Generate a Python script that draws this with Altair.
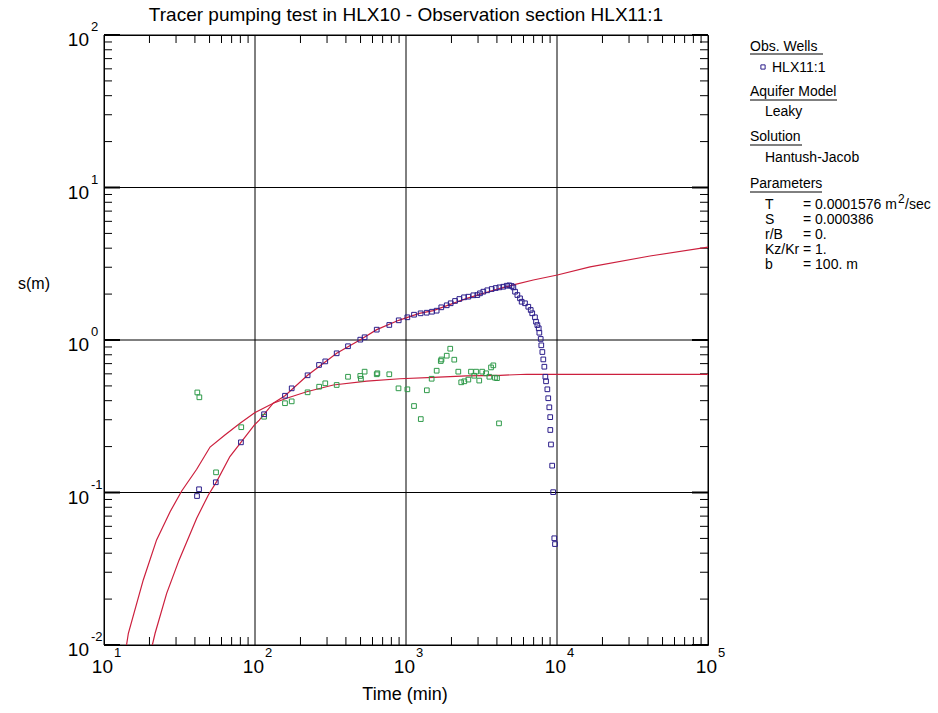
import altair as alt
import pandas as pd

# ---------------- data ----------------
# Observation section HLX11:1 (blue squares): time (min), drawdown s (m)
obs_t = [41.3, 42.6, 55.0, 80.7, 114.8, 158, 175, 223, 265.5, 292, 347.5, 413, 498, 532,
         640, 775, 895, 1021, 1130, 1250, 1371, 1486, 1596, 1713, 1861, 1977, 2113, 2256,
         2423, 2587, 2793, 2967, 3090, 3251, 3454, 3696, 3929, 4150, 4409, 4645, 4833,
         5012, 5140, 5275, 5463, 5689, 5835, 6138, 6456, 6697, 6856, 7146, 7262, 7413,
         7568, 7640, 7800, 7870, 7998, 8116, 8245, 8372, 8460, 8630, 8750, 8894, 9017,
         9030, 9125, 9291, 9435, 9597, 9700]
obs_s = [0.0948, 0.105, 0.1167, 0.2133, 0.326, 0.431, 0.482, 0.587, 0.686, 0.724, 0.818,
         0.910, 1.005, 1.042, 1.169, 1.255, 1.346, 1.409, 1.465, 1.496, 1.51, 1.533, 1.557,
         1.638, 1.689, 1.741, 1.803, 1.857, 1.905, 1.923, 1.964, 1.97, 2.023, 2.074, 2.118,
         2.159, 2.192, 2.214, 2.235, 2.27, 2.282, 2.259, 2.214, 2.074, 1.972, 1.876, 1.782,
         1.741, 1.652, 1.574, 1.497, 1.409, 1.318, 1.253, 1.193, 1.116, 1.016, 0.923, 0.834,
         0.746, 0.668, 0.574, 0.536, 0.475, 0.415, 0.362, 0.312, 0.257, 0.2065, 0.150,
         0.1005, 0.0501, 0.0459]

# second (green) point series
grn_t = [41.5, 42.8, 55.2, 81.1, 114.8, 158, 175, 223, 266, 292, 347.5, 413, 498, 503, 532,
         640, 646, 775, 892, 1021, 1130, 1253, 1374, 1479, 1596, 1718, 1700, 1861, 1963,
         2088, 2220, 2321, 2433, 2587, 2694, 2829, 2911, 3055, 3197, 3390, 3565, 3657,
         3787, 3882, 4006, 4130]
grn_s = [0.453, 0.421, 0.1356, 0.268, 0.314, 0.385, 0.396, 0.454, 0.494, 0.52, 0.507, 0.574,
         0.581, 0.557, 0.62, 0.596, 0.605, 0.596, 0.482, 0.475, 0.369, 0.303, 0.468, 0.557,
         0.629, 0.745, 0.728, 0.789, 0.877, 0.743, 0.62, 0.528, 0.536, 0.55, 0.62, 0.583,
         0.62, 0.542, 0.62, 0.605, 0.574, 0.661, 0.682, 0.566, 0.562, 0.284]

# fitted Hantush-Jacob curve through the blue points
fitA_t = [20.9, 21.8, 26.0, 31.4, 41.1, 49.1, 55.7, 68.2, 80.7, 98.9, 106.7, 132, 158, 223,
          347.5, 498, 640, 895, 1225, 1517, 2523, 4198, 5140, 6966, 10050, 16560, 41300,
          100000]
fitA_s = [0.0100, 0.01194, 0.0218, 0.0360, 0.0678, 0.0964, 0.1178, 0.172, 0.213, 0.277,
          0.2985, 0.385, 0.431, 0.587, 0.818, 1.005, 1.169, 1.346, 1.496, 1.557, 1.876,
          2.183, 2.297, 2.473, 2.667, 3.02, 3.556, 4.07]

# fitted curve through the green points
fitB_t = [14.1, 14.5, 18.2, 22.3, 27.4, 32.7, 41.1, 50.4, 63.2, 79.6, 99.5, 132, 162, 220,
          330, 550, 912, 1517, 2523, 4198, 6295, 10000, 100000]
fitB_s = [0.0100, 0.01194, 0.0267, 0.0489, 0.0748, 0.1023, 0.142, 0.1986, 0.238, 0.2845,
          0.3334, 0.385, 0.415, 0.458, 0.507, 0.538, 0.557, 0.569, 0.581, 0.587, 0.596,
          0.596, 0.596]

x_decades = [10, 100, 1000, 10000, 100000]
x_exps = ["1", "2", "3", "4", "5"]
y_decades = [0.01, 0.1, 1, 10, 100]
y_exps = ["-2", "-1", "0", "1", "2"]
minor_mult = [2, 3, 4, 5, 6, 7, 8, 9]

title_text = "Tracer pumping test in HLX10 - Observation section HLX11:1"
x_title = "Time (min)"
y_title = "s(m)"

leg_labels = ["Obs. Wells", "HLX11:1", "Aquifer Model", "Leaky", "Solution",
              "Hantush-Jacob", "Parameters", "T", "S", "r/B", "Kz/Kr", "b"]
param_values = ["= 0.0001576 m", "= 0.000386", "= 0.", "= 1.", "= 100. m"]

# ---------------- layout ----------------
W, H = 604, 610
FONT = "Liberation Sans"
BLUE = "#2b1d8a"
GREEN = "#2f9a4a"
RED = "#cc1f3d"

xs = alt.Scale(type="log", domain=[10, 100000], nice=False)
ys = alt.Scale(type="log", domain=[0.01, 100], nice=False)

obs_df = pd.DataFrame({"t": obs_t, "s": obs_s})
grn_df = pd.DataFrame({"t": grn_t, "s": grn_s})
fit_df = pd.concat([
    pd.DataFrame({"t": fitA_t, "s": fitA_s, "curve": "A"}),
    pd.DataFrame({"t": fitB_t, "s": fitB_s, "curve": "B"}),
])

xminor = [m * d for d in x_decades[:-1] for m in minor_mult]
yminor = [m * d for d in y_decades[:-1] for m in minor_mult]
xdec_df = pd.DataFrame({"t": x_decades, "e": x_exps, "base": ["10"] * 5})
ydec_df = pd.DataFrame({"s": y_decades, "e": y_exps, "base": ["10"] * 5})
xmin_df = pd.DataFrame({"t": xminor})
ymin_df = pd.DataFrame({"s": yminor})


def X():
    return alt.X("t:Q", scale=xs, axis=None)


def Y():
    return alt.Y("s:Q", scale=ys, axis=None)


# grid lines
vgrid = alt.Chart(xdec_df).mark_rule(color="black", strokeWidth=1).encode(
    x=X(), y=alt.value(0), y2=alt.value(H))
hgrid = alt.Chart(ydec_df).mark_rule(color="black", strokeWidth=1).encode(
    y=Y(), x=alt.value(0), x2=alt.value(W))

# minor ticks (inward, all four sides)
tb = alt.Chart(xmin_df).mark_rule(color="black", strokeWidth=1).encode(
    x=X(), y=alt.value(H), y2=alt.value(H - 8))
tt = alt.Chart(xmin_df).mark_rule(color="black", strokeWidth=1).encode(
    x=X(), y=alt.value(0), y2=alt.value(8))
tl = alt.Chart(ymin_df).mark_rule(color="black", strokeWidth=1).encode(
    y=Y(), x=alt.value(0), x2=alt.value(8))
tr = alt.Chart(ymin_df).mark_rule(color="black", strokeWidth=1).encode(
    y=Y(), x=alt.value(W), x2=alt.value(W - 8))
dl = alt.Chart(ydec_df).mark_rule(color="black", strokeWidth=2).encode(
    y=Y(), x=alt.value(0), x2=alt.value(16))
dr = alt.Chart(ydec_df).mark_rule(color="black", strokeWidth=2).encode(
    y=Y(), x=alt.value(W), x2=alt.value(W - 16))

# tick labels
xl_base = alt.Chart(xdec_df).mark_text(font=FONT, fontSize=19, align="right",
                                        baseline="alphabetic", dx=9).encode(
    x=X(), y=alt.value(H + 28), text="base:N")
xl_exp = alt.Chart(xdec_df).mark_text(font=FONT, fontSize=13, align="left",
                                       baseline="alphabetic", dx=10).encode(
    x=X(), y=alt.value(H + 12), text="e:N")
yl_base = alt.Chart(ydec_df).mark_text(font=FONT, fontSize=19, align="right",
                                        baseline="alphabetic", dy=11).encode(
    y=Y(), x=alt.value(-15), text="base:N")
yl_exp = alt.Chart(ydec_df).mark_text(font=FONT, fontSize=13, align="left",
                                       baseline="alphabetic", dy=-4).encode(
    y=Y(), x=alt.value(-13), text="e:N")

# data
curves = alt.Chart(fit_df).mark_line(color=RED, strokeWidth=1.2, clip=True).encode(
    x=X(), y=Y(), detail="curve:N")
pts_g = alt.Chart(grn_df).mark_point(shape="square", filled=False, size=22,
                                     strokeWidth=1, color=GREEN, opacity=1).encode(x=X(), y=Y())
pts_b = alt.Chart(obs_df).mark_point(shape="square", filled=False, size=22,
                                     strokeWidth=1, color=BLUE, opacity=1).encode(x=X(), y=Y())

# titles
title_main = alt.Chart(pd.DataFrame({"txt": [title_text]})).mark_text(
    font=FONT, fontSize=19, align="center", baseline="alphabetic").encode(
    x=alt.value(302), y=alt.value(-14), text="txt:N")
title_x = alt.Chart(pd.DataFrame({"txt": [x_title]})).mark_text(
    font=FONT, fontSize=18, align="center", baseline="alphabetic").encode(
    x=alt.value(301), y=alt.value(665), text="txt:N")
title_y = alt.Chart(pd.DataFrame({"txt": [y_title]})).mark_text(
    font=FONT, fontSize=16, align="left", baseline="alphabetic").encode(
    x=alt.value(-86), y=alt.value(254), text="txt:N")

# legend / info panel
leg_df = pd.DataFrame({
    "txt": leg_labels + param_values + ["/sec"],
    "px": [646, 668, 646, 661, 646, 661, 646, 661, 661, 661, 661, 661,
           699, 699, 699, 699, 699, 801],
    "py": [15.7, 36.7, 60.7, 81, 106, 127.3, 153.3, 173.5, 188.5, 203.5, 218.5, 234,
           173.5, 188.5, 203.5, 218.5, 234, 173.5],
})
legend_txt = alt.Chart(leg_df).mark_text(font=FONT, fontSize=14, align="left",
                                         baseline="alphabetic").encode(
    x=alt.X("px:Q", scale=None, axis=None),
    y=alt.Y("py:Q", scale=None, axis=None),
    text="txt:N")
sup = alt.Chart(pd.DataFrame({"txt": ["2"]})).mark_text(
    font=FONT, fontSize=12, align="left", baseline="alphabetic").encode(
    x=alt.value(794), y=alt.value(168), text="txt:N")
ul_df = pd.DataFrame({"x1": [646, 646, 646, 646], "x2": [719, 733, 698, 718],
                      "py": [19, 65, 110, 157]})
underlines = alt.Chart(ul_df).mark_rule(color="black", strokeWidth=1).encode(
    x=alt.X("x1:Q", scale=None, axis=None), x2="x2:Q",
    y=alt.Y("py:Q", scale=None, axis=None))
leg_sq = alt.Chart(pd.DataFrame({"k": ["HLX11:1"]})).mark_point(
    shape="square", filled=False, size=18, strokeWidth=1, color=BLUE, opacity=1).encode(
    x=alt.value(659), y=alt.value(32))

chart = alt.layer(
    vgrid, hgrid, tb, tt, tl, tr, dl, dr,
    curves, pts_g, pts_b,
    xl_base, xl_exp, yl_base, yl_exp,
    title_main, title_x, title_y,
    legend_txt, sup, underlines, leg_sq,
).properties(
    width=W, height=H,
    autosize=alt.AutoSizeParams(type="none"),
    padding={"left": 104, "top": 35, "right": 230, "bottom": 68},
    background="white",
).configure_view(stroke="black", strokeWidth=1)

chart.save("out.html", embed_options={"renderer": "svg", "actions": False})
